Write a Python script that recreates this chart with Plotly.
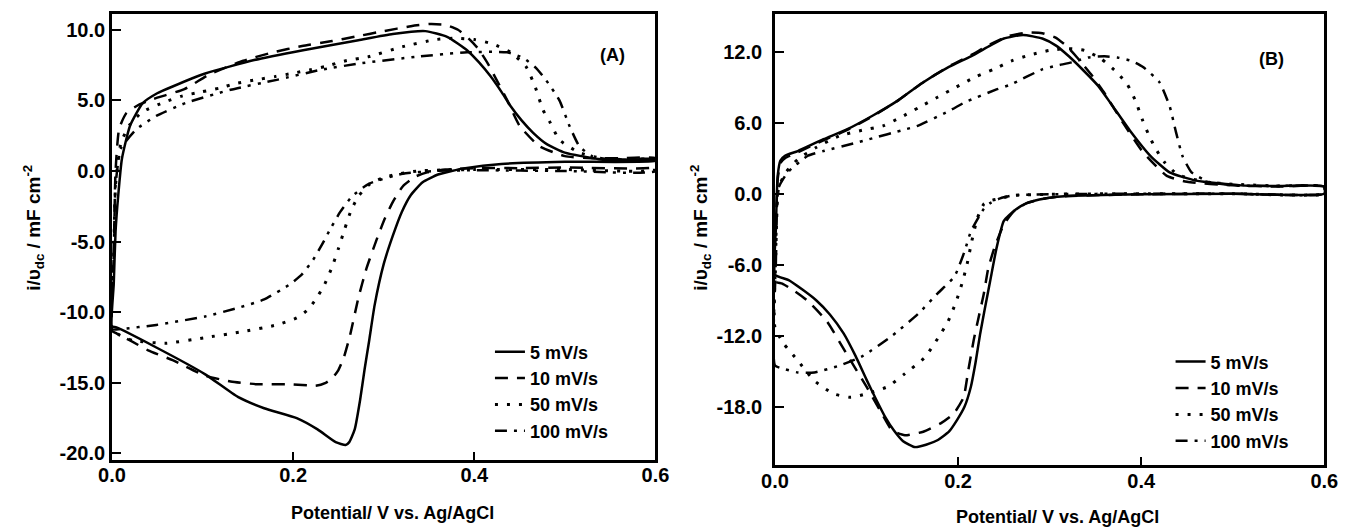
import plotly.graph_objects as go

# ---------------- data: panel (A) ----------------
rates = ["5 mV/s", "10 mV/s", "50 mV/s", "100 mV/s"]
x_ticks = [0.0, 0.2, 0.4, 0.6]
x_tick_text = ["0.0", "0.2", "0.4", "0.6"]
yA_ticks = [-20, -15, -10, -5, 0, 5, 10]
yB_ticks = [-18, -12, -6, 0, 6, 12]

A5_fwd_E = [0.0, 0.002, 0.004, 0.007, 0.011, 0.02, 0.034, 0.05, 0.067, 0.103, 0.157, 0.211, 0.272, 0.31, 0.346, 0.37, 0.392, 0.405, 0.418, 0.43, 0.44, 0.452, 0.465, 0.48, 0.5, 0.537, 0.57, 0.6]
A5_fwd_I = [-11.0, -8.0, -4.3, -1.7, 0.85, 3.2, 4.8, 5.5, 5.98, 6.9, 7.85, 8.55, 9.26, 9.7, 9.9, 9.5, 8.55, 7.7, 6.7, 5.6, 4.6, 3.6, 2.7, 1.9, 1.3, 0.85, 0.8, 0.8]
A5_rev_E = [0.6, 0.5, 0.43, 0.39, 0.375, 0.36, 0.343, 0.33, 0.32, 0.31, 0.30, 0.29, 0.284, 0.279, 0.274, 0.268, 0.262, 0.258, 0.247, 0.227, 0.204, 0.168, 0.139, 0.103, 0.049, 0.005, 0.0]
A5_rev_I = [0.7, 0.65, 0.5, 0.2, 0.0, -0.25, -0.8, -1.7, -2.9, -4.6, -6.6, -9.5, -12.0, -14.0, -16.2, -18.3, -19.2, -19.4, -19.2, -18.3, -17.5, -16.8, -16.0, -14.4, -12.5, -11.08, -11.0]

A10_fwd_E = [0.0, 0.002, 0.004, 0.008, 0.016, 0.03, 0.046, 0.08, 0.108, 0.145, 0.178, 0.21, 0.243, 0.268, 0.3, 0.33, 0.35, 0.368, 0.382, 0.395, 0.405, 0.415, 0.425, 0.436, 0.45, 0.472, 0.5, 0.53, 0.56, 0.6]
A10_fwd_I = [-11.3, -6.0, 0.0, 3.0, 4.1, 4.7, 5.1, 5.8, 6.85, 7.8, 8.4, 8.85, 9.2, 9.5, 9.9, 10.25, 10.4, 10.35, 10.0, 9.3, 8.6, 7.6, 6.4, 5.05, 3.2, 1.75, 1.05, 0.9, 0.9, 0.9]
A10_rev_E = [0.6, 0.5, 0.45, 0.4, 0.368, 0.348, 0.335, 0.321, 0.31, 0.301, 0.292, 0.281, 0.272, 0.263, 0.256, 0.25, 0.243, 0.236, 0.225, 0.196, 0.16, 0.131, 0.103, 0.067, 0.04, 0.02, 0.005, 0.0]
A10_rev_I = [0.3, 0.25, 0.2, 0.2, 0.1, -0.1, -0.4, -1.1, -2.2, -3.4, -4.9, -6.9, -9.0, -11.6, -13.2, -14.1, -14.7, -15.0, -15.2, -15.1, -15.1, -14.9, -14.5, -13.4, -12.7, -12.0, -11.5, -11.3]

A50_fwd_E = [0.0, 0.002, 0.004, 0.01, 0.02, 0.034, 0.059, 0.077, 0.099, 0.119, 0.137, 0.159, 0.18, 0.2, 0.218, 0.236, 0.258, 0.284, 0.321, 0.357, 0.38, 0.40, 0.42, 0.44, 0.457, 0.467, 0.476, 0.484, 0.494, 0.516, 0.54, 0.57, 0.6]
A50_fwd_I = [-11.3, -6.0, -1.0, 2.0, 3.3, 4.2, 4.9, 5.3, 5.6, 5.87, 6.2, 6.45, 6.68, 6.92, 7.15, 7.4, 7.8, 8.1, 8.8, 9.3, 9.4, 9.3, 9.0, 8.4, 7.4, 6.0, 4.3, 3.4, 2.2, 1.3, 0.9, 0.8, 0.8]
A50_rev_E = [0.6, 0.5, 0.4, 0.338, 0.303, 0.285, 0.272, 0.264, 0.257, 0.25, 0.243, 0.235, 0.225, 0.215, 0.204, 0.182, 0.142, 0.103, 0.059, 0.023, 0.008, 0.0]
A50_rev_I = [0.1, 0.1, 0.1, 0.0, -0.4, -0.9, -1.8, -2.8, -4.1, -5.5, -6.8, -8.0, -9.1, -9.9, -10.4, -10.9, -11.4, -11.8, -12.2, -12.0, -11.6, -11.3]

A100_fwd_E = [0.0, 0.002, 0.004, 0.01, 0.027, 0.049, 0.081, 0.131, 0.182, 0.23, 0.272, 0.338, 0.392, 0.436, 0.454, 0.468, 0.479, 0.494, 0.505, 0.516, 0.53, 0.55, 0.6]
A100_fwd_I = [-11.2, -6.0, -1.0, 1.6, 2.95, 3.9, 4.8, 5.75, 6.45, 7.15, 7.6, 8.1, 8.4, 8.4, 8.0, 7.3, 6.45, 5.0, 3.2, 1.75, 1.05, 0.8, 0.8]
A100_rev_E = [0.6, 0.5, 0.4, 0.357, 0.321, 0.284, 0.265, 0.252, 0.242, 0.232, 0.222, 0.21, 0.197, 0.168, 0.139, 0.103, 0.049, 0.009, 0.0]
A100_rev_I = [0.0, 0.0, 0.05, 0.0, -0.2, -0.9, -1.8, -2.9, -4.0, -5.2, -6.3, -7.3, -8.0, -9.1, -9.7, -10.3, -10.9, -11.2, -11.2]

# ---------------- data: panel (B) ----------------
B5_fwd_E = [0.0, 0.001, 0.003, 0.006, 0.011, 0.025, 0.053, 0.078, 0.107, 0.135, 0.16, 0.19, 0.214, 0.235, 0.25, 0.271, 0.292, 0.307, 0.321, 0.337, 0.353, 0.367, 0.388, 0.41, 0.431, 0.46, 0.509, 0.55, 0.6]
B5_fwd_I = [-6.85, -3.0, 1.5, 2.8, 3.2, 3.6, 4.6, 5.4, 6.6, 7.9, 9.3, 10.7, 11.6, 12.5, 13.1, 13.4, 13.1, 12.5, 11.6, 10.4, 9.1, 7.6, 5.3, 3.2, 1.8, 1.1, 0.7, 0.65, 0.6]
B5_rev_E = [0.6, 0.5, 0.4, 0.32, 0.295, 0.275, 0.262, 0.25, 0.242, 0.235, 0.229, 0.224, 0.219, 0.214, 0.207, 0.199, 0.19, 0.178, 0.165, 0.153, 0.14, 0.13, 0.12, 0.11, 0.1, 0.088, 0.075, 0.06, 0.045, 0.03, 0.015, 0.0]
B5_rev_I = [0.0, 0.0, -0.05, -0.2, -0.4, -0.8, -1.4, -2.3, -4.6, -7.4, -9.8, -11.9, -14.3, -16.3, -18.0, -19.1, -20.1, -20.8, -21.2, -21.4, -20.9, -20.0, -18.8, -17.3, -15.7, -13.7, -11.8, -10.2, -9.0, -8.1, -7.3, -6.85]

B10_fwd_E = [0.0, 0.001, 0.003, 0.006, 0.011, 0.025, 0.053, 0.078, 0.107, 0.135, 0.16, 0.19, 0.214, 0.235, 0.255, 0.275, 0.292, 0.306, 0.318, 0.33, 0.345, 0.359, 0.38, 0.402, 0.428, 0.45, 0.5, 0.55, 0.6]
B10_fwd_I = [-7.4, -3.0, 1.2, 2.6, 3.0, 3.5, 4.5, 5.35, 6.55, 7.9, 9.3, 10.75, 11.7, 12.6, 13.3, 13.6, 13.55, 13.2, 12.5, 11.5, 10.1, 8.6, 6.0, 3.5, 1.5, 1.0, 0.7, 0.6, 0.6]
B10_rev_E = [0.6, 0.5, 0.4, 0.32, 0.295, 0.275, 0.262, 0.25, 0.24, 0.233, 0.228, 0.222, 0.217, 0.211, 0.206, 0.195, 0.181, 0.162, 0.142, 0.128, 0.117, 0.1, 0.078, 0.057, 0.035, 0.021, 0.008, 0.0]
B10_rev_I = [0.0, 0.0, -0.05, -0.2, -0.4, -0.8, -1.4, -2.6, -4.5, -6.3, -8.5, -10.6, -12.4, -15.0, -17.2, -18.6, -19.4, -20.1, -20.4, -20.0, -18.6, -16.3, -13.5, -10.8, -9.0, -8.2, -7.6, -7.4]

B50_fwd_E = [0.0, 0.001, 0.004, 0.012, 0.025, 0.045, 0.071, 0.095, 0.118, 0.137, 0.157, 0.178, 0.198, 0.219, 0.239, 0.258, 0.278, 0.3, 0.32, 0.338, 0.356, 0.374, 0.385, 0.394, 0.401, 0.408, 0.415, 0.425, 0.44, 0.47, 0.5, 0.55, 0.6]
B50_fwd_I = [-11.3, -5.0, 0.5, 1.8, 2.9, 3.9, 4.9, 5.35, 5.73, 6.43, 7.27, 8.16, 9.0, 9.86, 10.5, 11.2, 11.7, 12.1, 12.25, 12.1, 11.4, 10.2, 9.2, 7.8, 6.3, 5.0, 3.9, 2.7, 1.6, 1.0, 0.8, 0.65, 0.6]
B50_rev_E = [0.6, 0.5, 0.4, 0.3, 0.26, 0.246, 0.235, 0.228, 0.221, 0.215, 0.21, 0.205, 0.198, 0.189, 0.178, 0.164, 0.142, 0.123, 0.1, 0.083, 0.064, 0.043, 0.025, 0.01, 0.0]
B50_rev_I = [0.0, 0.0, 0.0, -0.05, -0.15, -0.4, -0.6, -0.9, -2.1, -4.0, -5.9, -7.4, -9.1, -10.8, -12.2, -13.8, -15.2, -16.3, -16.9, -17.2, -16.9, -15.8, -14.1, -12.7, -11.3]

B100_fwd_E = [0.0, 0.001, 0.004, 0.014, 0.036, 0.053, 0.089, 0.103, 0.141, 0.155, 0.193, 0.207, 0.242, 0.257, 0.292, 0.307, 0.325, 0.342, 0.36, 0.374, 0.39, 0.402, 0.42, 0.431, 0.438, 0.445, 0.455, 0.474, 0.5, 0.55, 0.6]
B100_fwd_I = [-14.5, -6.0, 0.5, 1.8, 3.2, 3.6, 4.3, 4.6, 5.4, 5.7, 7.1, 7.7, 8.8, 9.2, 10.5, 10.8, 11.1, 11.5, 11.6, 11.5, 11.2, 10.7, 9.4, 7.4, 5.2, 3.2, 1.8, 1.0, 0.7, 0.65, 0.6]
B100_rev_E = [0.6, 0.5, 0.4, 0.3, 0.26, 0.246, 0.235, 0.228, 0.214, 0.207, 0.196, 0.178, 0.157, 0.128, 0.096, 0.071, 0.043, 0.025, 0.01, 0.0]
B100_rev_I = [0.0, 0.0, 0.0, -0.05, -0.15, -0.4, -0.8, -1.3, -3.2, -4.9, -7.0, -8.4, -10.1, -12.0, -13.7, -14.5, -15.1, -15.1, -14.8, -14.5]

panelA = [(A5_fwd_E, A5_fwd_I, A5_rev_E, A5_rev_I),
          (A10_fwd_E, A10_fwd_I, A10_rev_E, A10_rev_I),
          (A50_fwd_E, A50_fwd_I, A50_rev_E, A50_rev_I),
          (A100_fwd_E, A100_fwd_I, A100_rev_E, A100_rev_I)]
panelB = [(B5_fwd_E, B5_fwd_I, B5_rev_E, B5_rev_I),
          (B10_fwd_E, B10_fwd_I, B10_rev_E, B10_rev_I),
          (B50_fwd_E, B50_fwd_I, B50_rev_E, B50_rev_I),
          (B100_fwd_E, B100_fwd_I, B100_rev_E, B100_rev_I)]

# ---------------- styles ----------------
FONT = "Liberation Sans, Arial, sans-serif"
dashes = ["solid", "13px,9px", "3px,9px", "12px,7px,3px,7px,3px,7px"]
widths = [2.5, 2.5, 3.0, 2.5]

fig = go.Figure()
for panel, xa, ya, leg in [(panelA, "x", "y", "legend"), (panelB, "x2", "y2", "legend2")]:
    for k, (ef, ifw, er, irv) in enumerate(panel):
        fig.add_trace(go.Scatter(
            x=ef + er, y=ifw + irv, mode="lines", name=rates[k],
            xaxis=xa, yaxis=ya, legend=leg,
            line=dict(color="black", width=widths[k], dash=dashes[k],
                      shape="spline", smoothing=0.5),
            hoverinfo="skip"))

W, H = 1354, 529
def px_x(p): return p / W
def px_y(p): return 1 - p / H

axis_common = dict(showline=True, linecolor="black", linewidth=2.5, mirror=True,
                   ticks="inside", ticklen=9, tickwidth=2, tickcolor="black",
                   showgrid=False, zeroline=False,
                   tickfont=dict(family=FONT, size=20, color="black", weight="bold"))

leg_font = dict(family=FONT, size=18, color="black", weight="bold")
fig.update_layout(
    width=W, height=H,
    margin=dict(l=0, r=0, t=0, b=0),
    paper_bgcolor="white", plot_bgcolor="white",
    font=dict(family=FONT, color="black"),
    xaxis=dict(domain=[px_x(100), px_x(655)], range=[0, 0.6], tickvals=x_ticks,
               ticktext=x_tick_text, anchor="y", ticklabelstandoff=-5, **axis_common),
    yaxis=dict(domain=[px_y(464), px_y(14)], range=[-20.5, 11.12], tickvals=yA_ticks,
               ticktext=[f"{v:.1f}" for v in yA_ticks], anchor="x", ticklabelstandoff=0, **axis_common),
    xaxis2=dict(domain=[px_x(777), px_x(1338)], range=[0, 0.6], tickvals=x_ticks,
                ticktext=x_tick_text, anchor="y2", ticklabelstandoff=-4, **axis_common),
    yaxis2=dict(domain=[px_y(469), px_y(14)], range=[-22.95, 15.18], tickvals=yB_ticks,
                ticktext=[f"{v:.1f}" for v in yB_ticks], anchor="x2", ticklabelstandoff=6, **axis_common),
    legend=dict(x=px_x(486), y=px_y(336), xanchor="left", yanchor="top",
                bgcolor="rgba(0,0,0,0)", borderwidth=0, tracegroupgap=0, font=leg_font),
    legend2=dict(x=px_x(1181), y=px_y(346), xanchor="left", yanchor="top",
                 bgcolor="rgba(0,0,0,0)", borderwidth=0, tracegroupgap=0, font=leg_font),
    showlegend=True,
)

title_font = dict(family=FONT, size=18, color="black", weight="bold")
ytitle_font = dict(family=FONT, size=19, color="black", weight="bold")
ytitle = "i/υ<sub>dc</sub> / mF cm<sup>-2</sup>"
xtitle = "Potential/ V vs. Ag/AgCl"
annots = [
    dict(text=xtitle, x=px_x(386), y=px_y(517), xref="paper", yref="paper",
         showarrow=False, font=title_font, xanchor="center", yanchor="middle"),
    dict(text=xtitle, x=px_x(1066), y=px_y(521), xref="paper", yref="paper",
         showarrow=False, font=title_font, xanchor="center", yanchor="middle"),
    dict(text=ytitle, x=px_x(20), y=px_y(230), xref="paper", yref="paper", textangle=-90,
         showarrow=False, font=ytitle_font, xanchor="center", yanchor="middle"),
    dict(text=ytitle, x=px_x(701), y=px_y(230), xref="paper", yref="paper", textangle=-90,
         showarrow=False, font=ytitle_font, xanchor="center", yanchor="middle"),
    dict(text="(A)", x=px_x(611), y=px_y(55), xref="paper", yref="paper",
         showarrow=False, font=title_font, xanchor="center", yanchor="middle"),
    dict(text="(B)", x=px_x(1284), y=px_y(59), xref="paper", yref="paper",
         showarrow=False, font=title_font, xanchor="center", yanchor="middle"),
]
fig.update_layout(annotations=annots)

fig.write_html("out.html")
